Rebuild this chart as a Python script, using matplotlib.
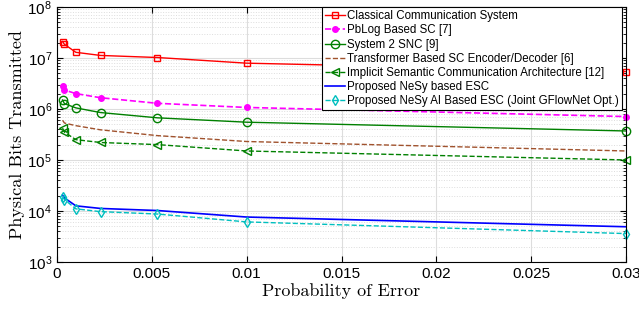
import numpy as np
import matplotlib.pyplot as plt
from matplotlib.ticker import LogLocator, NullFormatter

# probability of error (x axis)
pe = [0.0003, 0.0004, 0.001, 0.0023, 0.0053, 0.01, 0.03]

classical = [2.1e7, 1.85e7, 1.29e7, 1.12e7, 1.02e7, 7.9e6, 5.4e6]
pblog = [2.8e6, 2.35e6, 2.0e6, 1.66e6, 1.29e6, 1.07e6, 7.1e5]
system2 = [1.5e6, 1.27e6, 1.05e6, 8.5e5, 6.7e5, 5.5e5, 3.7e5]
transformer = [6.0e5, 5.3e5, 4.7e5, 3.9e5, 3.0e5, 2.3e5, 1.5e5]
implicit = [4.2e5, 3.5e5, 2.5e5, 2.2e5, 2.0e5, 1.5e5, 1.0e5]
nesy = [2.05e4, 1.8e4, 1.26e4, 1.12e4, 1.02e4, 7.6e3, 4.9e3]
nesy_gfn = [1.9e4, 1.67e4, 1.1e4, 9.7e3, 8.7e3, 6.1e3, 3.6e3]

labels = ["Classical Communication System",
          "PbLog Based SC [7]",
          "System 2 SNC [9]",
          "Transformer Based SC Encoder/Decoder [6]",
          "Implicit Semantic Communication Architecture [12]",
          "Proposed NeSy based ESC",
          "Proposed NeSy AI Based ESC (Joint GFlowNet Opt.)"]

plt.rcParams['font.family'] = ['Liberation Sans', 'DejaVu Sans']

fig = plt.figure(figsize=(6.39, 3.16), dpi=100)
ax = fig.add_axes([0.089, 0.171, 0.891, 0.807])

ax.plot(pe, classical, color="red", marker="s", mfc="none", ms=5, lw=1, label=labels[0], clip_on=False)
ax.plot(pe, pblog, color="magenta", ls="--", marker="o", ms=4, lw=1.2, label=labels[1], clip_on=False)
ax.plot(pe, system2, color="green", marker="o", mfc="none", ms=6, lw=1, label=labels[2], clip_on=False)
ax.plot(pe, transformer, color="#a0522d", ls="--", lw=1, label=labels[3])
ax.plot(pe, implicit, color="green", ls="--", marker="<", mfc="none", ms=6, lw=1, label=labels[4], clip_on=False)
ax.plot(pe, nesy, color="blue", lw=1.2, label=labels[5])
ax.plot(pe, nesy_gfn, color="#00bfbf", ls="--", marker="d", mfc="none", ms=5, lw=1, label=labels[6], clip_on=False)

ax.set_yscale("log")
ax.set_xlim(0, 0.03)
ax.set_ylim(1e3, 1e8)
ax.set_xticks([0, 0.005, 0.01, 0.015, 0.02, 0.025, 0.03])
ax.set_xticklabels(["0", "0.005", "0.01", "0.015", "0.02", "0.025", "0.03"])
ax.yaxis.set_major_locator(LogLocator(base=10, numticks=10))
ax.yaxis.set_minor_locator(LogLocator(base=10, subs=np.arange(2, 10), numticks=20))
ax.yaxis.set_minor_formatter(NullFormatter())

ax.grid(True, which="major", color="#dddddd", lw=0.8)
ax.grid(True, which="minor", axis="y", color="#dddddd", ls=":", lw=0.7)
ax.set_axisbelow(True)
ax.tick_params(which="both", direction="in", top=True, right=True, labelsize=11)
ax.tick_params(which="major", length=4)
ax.tick_params(which="minor", length=2)
for s in ax.spines.values():
    s.set_linewidth(0.8)

ax.set_xlabel("Probability of Error", fontfamily="cmr10", fontsize=13, labelpad=2)
ax.set_ylabel("Physical Bits Transmitted", fontfamily="cmr10", fontsize=13, labelpad=2)

leg = ax.legend(loc="upper right", bbox_to_anchor=(0.993, 1.0), fontsize=8.3, frameon=True,
                fancybox=False, edgecolor="black", framealpha=1, handlelength=1.7,
                handletextpad=0.2, borderpad=0.3, labelspacing=0.18, borderaxespad=0)
leg.get_frame().set_linewidth(0.8)

fig.savefig("out.png", dpi=100)
